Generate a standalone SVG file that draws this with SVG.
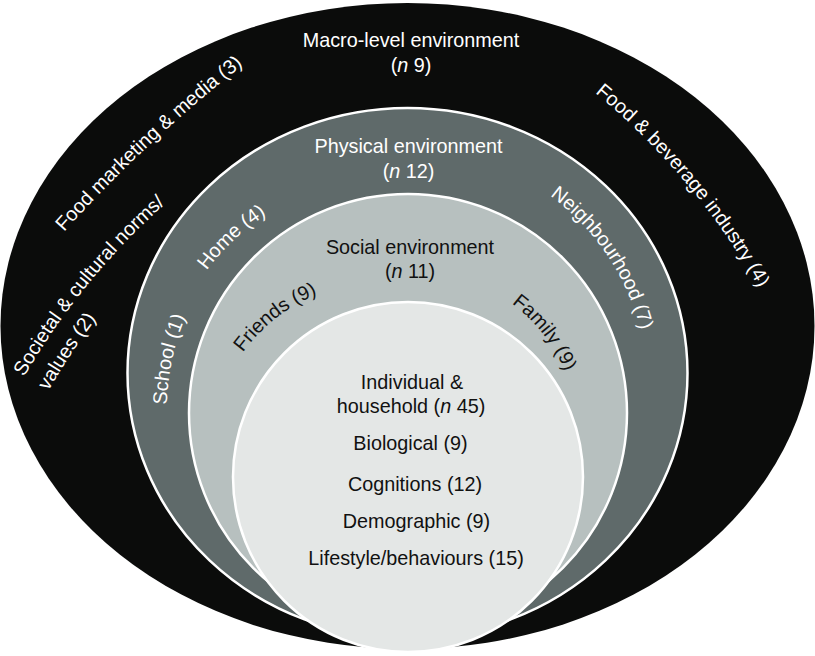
<svg xmlns="http://www.w3.org/2000/svg" xmlns:xlink="http://www.w3.org/1999/xlink" width="815" height="656" viewBox="0 0 815 656">
<style>
text{font-family:"Liberation Sans",Arial,"DejaVu Sans",sans-serif;font-size:19.8px;}
.w{fill:#ffffff;}
.k{fill:#111111;}
.c{text-anchor:middle;}
.ring{stroke:#ffffff;stroke-width:2.5;}
.i{font-style:italic;}
</style>
<defs>
<path id="p-fm" d="M64,232 A1400,1400 0 0 1 341.8,-5.4" fill="none"/>
<path id="p-soc1" d="M24,377 A700,700 0 0 1 280.2,120.8" fill="none"/>
<path id="p-soc2" d="M48.2,391 A672,672 0 0 1 294.2,145" fill="none"/>
<path id="p-fb" d="M445.6,-1.4 A700,700 0 0 1 826,451.8" fill="none"/>
<path id="p-school" d="M194.9,522.6 A240,240 0 0 1 259,220.8" fill="none"/>
<path id="p-home" d="M162.6,380.2 A230,230 0 0 1 378.9,178.5" fill="none"/>
<path id="p-friends" d="M212,431.3 A170,170 0 0 1 401.4,283.3" fill="none"/>
<path id="p-neigh" d="M453.8,153.6 A240,240 0 0 1 643.6,435" fill="none"/>
<path id="p-family" d="M418.8,270.7 A165,165 0 0 1 574.4,469.9" fill="none"/>
</defs>
<rect width="815" height="656" fill="#ffffff"/>
<g id="macro">
<ellipse cx="407.5" cy="326" rx="407" ry="323" fill="#0b0c0b"/>
<text class="w c" x="411" y="47">Macro-level environment</text>
<text class="w c" x="411" y="72">(<tspan class="i">n</tspan> 9)</text>
<text class="w"><textPath href="#p-fm" xlink:href="#p-fm">Food marketing &amp; media (3)</textPath></text>
<text class="w"><textPath href="#p-soc1" xlink:href="#p-soc1">Societal &amp; cultural norms/</textPath></text>
<text class="w"><textPath href="#p-soc2" xlink:href="#p-soc2">values (2)</textPath></text>
<text class="w"><textPath href="#p-fb" xlink:href="#p-fb" startOffset="50%" text-anchor="middle">Food &amp; beverage industry (4)</textPath></text>
</g>
<g id="physical">
<ellipse class="ring" cx="407.5" cy="373" rx="280" ry="265" fill="#5f6a6a"/>
<text class="w c" x="408.5" y="153">Physical environment</text>
<text class="w c" x="408.5" y="178">(<tspan class="i">n</tspan> 12)</text>
<text class="w"><textPath href="#p-school" xlink:href="#p-school" startOffset="50%" text-anchor="middle">School (1)</textPath></text>
<text class="w"><textPath href="#p-home" xlink:href="#p-home" startOffset="50%" text-anchor="middle">Home (4)</textPath></text>
<text class="w"><textPath href="#p-neigh" xlink:href="#p-neigh" startOffset="50%" text-anchor="middle">Neighbourhood (7)</textPath></text>
</g>
<g id="social">
<circle class="ring" cx="408" cy="413" r="219" fill="#b7c0bf"/>
<text class="k c" x="410" y="254">Social environment</text>
<text class="k c" x="410" y="278">(<tspan class="i">n</tspan> 11)</text>
<text class="k"><textPath href="#p-friends" xlink:href="#p-friends" startOffset="50%" text-anchor="middle">Friends (9)</textPath></text>
<text class="k"><textPath href="#p-family" xlink:href="#p-family" startOffset="50%" text-anchor="middle">Family (9)</textPath></text>
</g>
<g id="individual">
<circle class="ring" cx="408" cy="477" r="175" fill="#e4e7e6"/>
<text class="k c" x="412" y="389">Individual &amp;</text>
<text class="k c" x="411" y="413">household (<tspan class="i">n</tspan> 45)</text>
<text class="k c" x="410.5" y="450">Biological (9)</text>
<text class="k c" x="415" y="491">Cognitions (12)</text>
<text class="k c" x="416.5" y="528">Demographic (9)</text>
<text class="k c" x="416" y="565">Lifestyle/behaviours (15)</text>
</g>
<g id="connectors"/>
</svg>
